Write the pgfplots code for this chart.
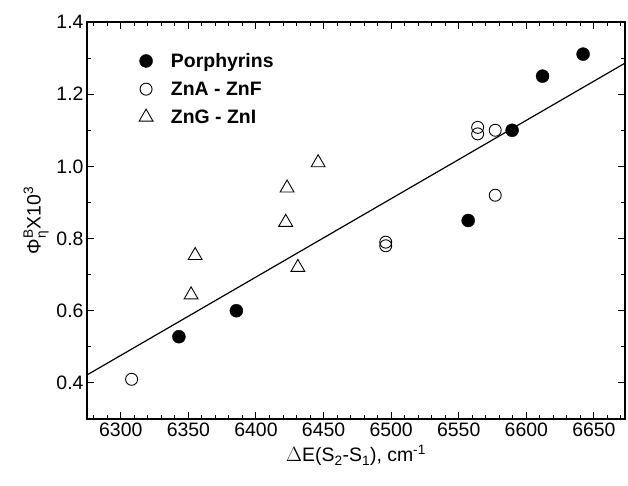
\documentclass[border=0pt]{standalone}
\usepackage{amsmath}
\usepackage{fontspec}
\setmainfont{Liberation Sans}
\usepackage{pgfplots}
\pgfplotsset{compat=1.18}
\usetikzlibrary{calc}

\begin{document}
\begin{tikzpicture}[font=\fontsize{19.5}{23}\selectfont]
\begin{axis}[
    name=ax,
    scale only axis,
    width=538bp, height=397bp,
    xmin=6275, xmax=6673,
    ymin=0.3, ymax=1.4,
    xtick={6300,6350,...,6650},
    minor xtick={6280,6290,...,6670},
    ytick={0.4,0.6,...,1.4},
    minor ytick={0.5,0.7,...,1.3},
    tick align=inside,
    major tick length=7bp,
    minor tick length=4bp,
    axis line style={line width=1.2bp},
    every tick/.style={line width=1bp, black},
    tick label style={font=\fontsize{19.5}{23}\selectfont},
    label style={font=\fontsize{19.5}{23}\selectfont},
    /pgf/number format/assume math mode=true,
    x tick label style={/pgf/number format/1000 sep={}},
    y tick label style={/pgf/number format/.cd, fixed, fixed zerofill, precision=1},
    xticklabel={\pgfmathprintnumber{\tick}},
    yticklabel={\pgfmathprintnumber{\tick}},
    xlabel={$\Delta$E(S\textsubscript{2}-S\textsubscript{1}), cm\textsuperscript{-1}},
    ylabel={$\text{Φ}^{\text{B}}_{\text{η}}$X10\textsuperscript{3}},
    xlabel style={yshift=-2bp},
    ylabel style={yshift=1bp},
    legend style={at={(0.091,0.932)}, anchor=north west, draw=none, fill=none,
        font=\bfseries\fontsize{19.5}{23}\selectfont, row sep=9bp, column sep=16bp},
    legend cell align=left,
]
\addplot[only marks, mark=*, mark size=6.5bp, black, fill=black] coordinates {
    (6343,0.528) (6385.5,0.60) (6557,0.85) (6589.5,1.10) (6612,1.25) (6642,1.311)
};
\addlegendentry{Porphyrins}
\addplot[only marks, mark=o, mark size=6bp, black, line width=0.9bp] coordinates {
    (6308,0.41) (6496,0.78) (6496,0.79) (6564,1.09) (6564,1.108) (6577,1.10) (6577,0.92)
};
\addlegendentry{ZnA - ZnF}
\addplot[only marks, mark=triangle, mark size=8bp, black, line width=0.9bp] coordinates {
    (6352,0.644) (6355,0.753) (6422,0.845) (6423,0.94) (6431,0.72) (6446,1.01)
};
\addlegendentry{ZnG - ZnI}
\addplot[black, line width=1.2bp, forget plot] coordinates {(6275,0.422) (6673,1.286)};
\end{axis}
\pgfresetboundingbox
\path ($(ax.south west)+(-87bp,-67bp)$) rectangle ($(ax.north east)+(3bp,22bp)$);
\end{tikzpicture}
\end{document}
